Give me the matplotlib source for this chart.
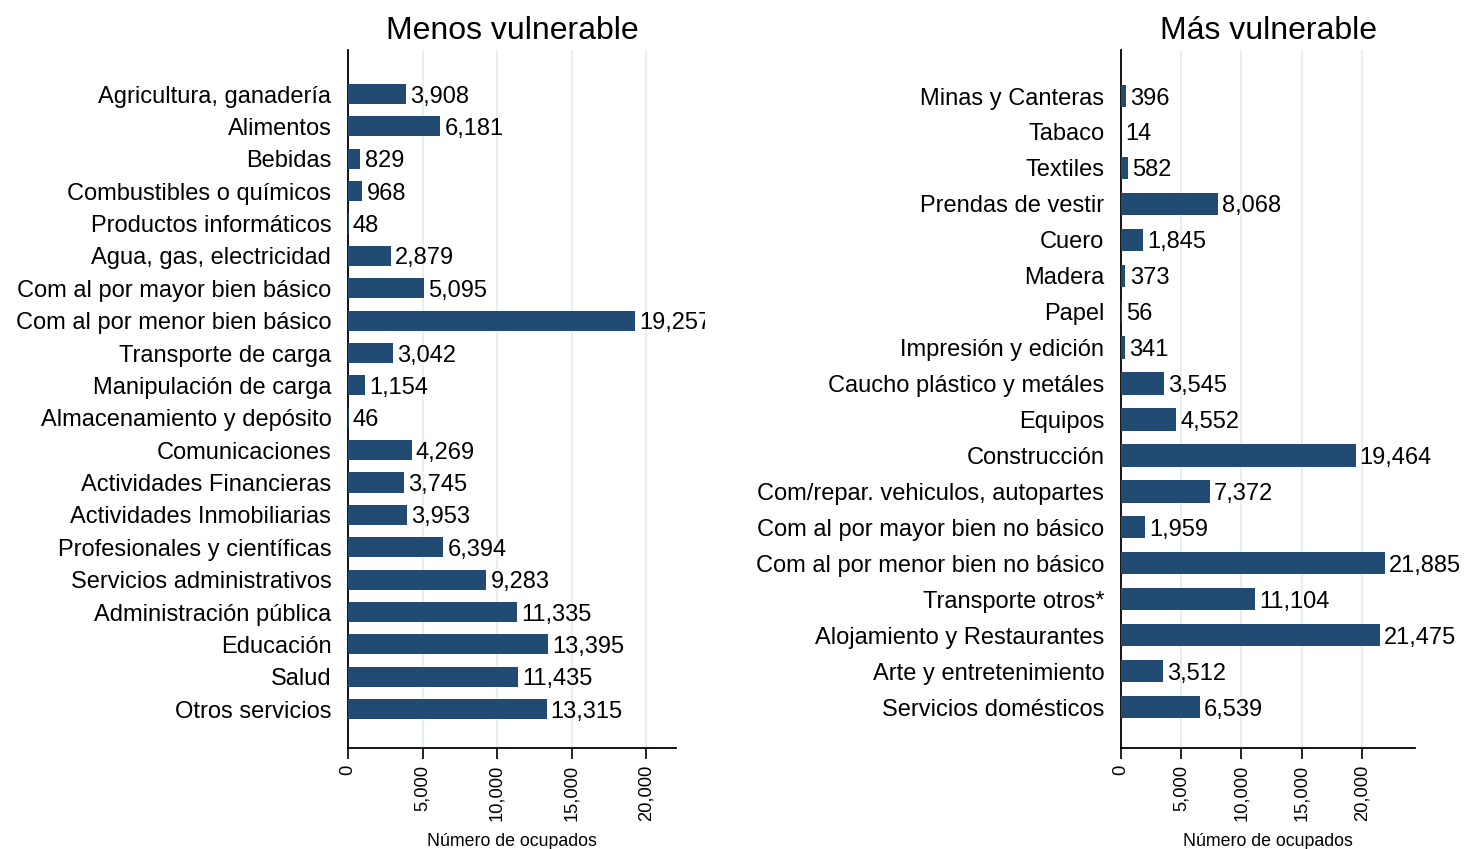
import matplotlib
matplotlib.use("Agg")
import matplotlib.pyplot as plt
from matplotlib.ticker import FuncFormatter
from matplotlib.transforms import Bbox

plt.rcParams['font.family'] = ['Liberation Sans', 'DejaVu Sans']

left_title = "Menos vulnerable"
left_cats = ["Agricultura, ganadería", "Alimentos", "Bebidas", "Combustibles o químicos",
             "Productos informáticos", "Agua, gas, electricidad", "Com al por mayor bien básico",
             "Com al por menor bien básico", "Transporte de carga", "Manipulación de carga",
             "Almacenamiento y depósito", "Comunicaciones", "Actividades Financieras",
             "Actividades Inmobiliarias", "Profesionales y científicas", "Servicios administrativos",
             "Administración pública", "Educación", "Salud", "Otros servicios"]
left_vals = [3908, 6181, 829, 968, 48, 2879, 5095, 19257, 3042, 1154, 46, 4269, 3745,
             3953, 6394, 9283, 11335, 13395, 11435, 13315]

right_title = "Más vulnerable"
right_cats = ["Minas y Canteras", "Tabaco", "Textiles", "Prendas de vestir", "Cuero", "Madera",
              "Papel", "Impresión y edición", "Caucho plástico y metáles", "Equipos",
              "Construcción", "Com/repar. vehiculos, autopartes", "Com al por mayor bien no básico",
              "Com al por menor bien no básico", "Transporte otros*", "Alojamiento y Restaurantes",
              "Arte y entretenimiento", "Servicios domésticos"]
right_vals = [396, 14, 582, 8068, 1845, 373, 56, 341, 3545, 4552, 19464, 7372, 1959,
              21885, 11104, 21475, 3512, 6539]

xticks = [0, 5000, 10000, 15000, 20000]
xlabel = "Número de ocupados"
bar_color = "#224b73"
grid_color = "#e6eff1"

W, H = 1466, 849
fig = plt.figure(figsize=(W / 100, H / 100), dpi=100)

def px_axes(x0, x1, y0, y1):
    return fig.add_axes([x0 / W, 1 - y1 / H, (x1 - x0) / W, (y1 - y0) / H])

def panel(ax, cats, vals, title, xmax, ytop, ybot, clip_x):
    n = len(cats)
    ypos = list(range(n))
    ax.barh(ypos, vals, height=0.62, color=bar_color, zorder=3)
    ax.set_ylim(n - 1 + ybot, -ytop)
    ax.set_xlim(0, xmax)
    ax.set_yticks(ypos)
    ax.set_yticklabels(cats, fontsize=17)
    ax.tick_params(axis='y', length=0, pad=12)
    ax.set_xticks(xticks)
    ax.xaxis.set_major_formatter(FuncFormatter(lambda v, p: f"{int(v):,}"))
    ax.tick_params(axis='x', direction='out', length=8, width=1.2, labelsize=13.2,
                   labelrotation=90, pad=4)
    for s in ['top', 'right']:
        ax.spines[s].set_visible(False)
    for s in ['left', 'bottom']:
        ax.spines[s].set_linewidth(1.3)
        ax.spines[s].set_color('black')
    ax.grid(axis='x', color=grid_color, linewidth=1.5, zorder=0)
    ax.set_axisbelow(True)
    ax.set_title(title, fontsize=23, pad=8)
    ax.set_xlabel(xlabel, fontsize=12.8, labelpad=9)
    cb = Bbox.from_extents(0, 0, clip_x, H)
    for y, v in zip(ypos, vals):
        t = ax.annotate(f"{v:,}", (v, y), xytext=(3, 0), textcoords='offset points',
                        va='center_baseline', ha='left', fontsize=17, annotation_clip=False)
        t.set_clip_box(cb)
        t.set_clip_on(True)

ax1 = px_axes(348, 676, 50, 748)
panel(ax1, left_cats, left_vals, left_title, 22000, 1.36, 1.2, 705)

ax2 = px_axes(1121, 1415, 50, 748)
panel(ax2, right_cats, right_vals, right_title, 24400, 1.28, 1.14, W)

fig.savefig("out.png", dpi=100, facecolor='white')
